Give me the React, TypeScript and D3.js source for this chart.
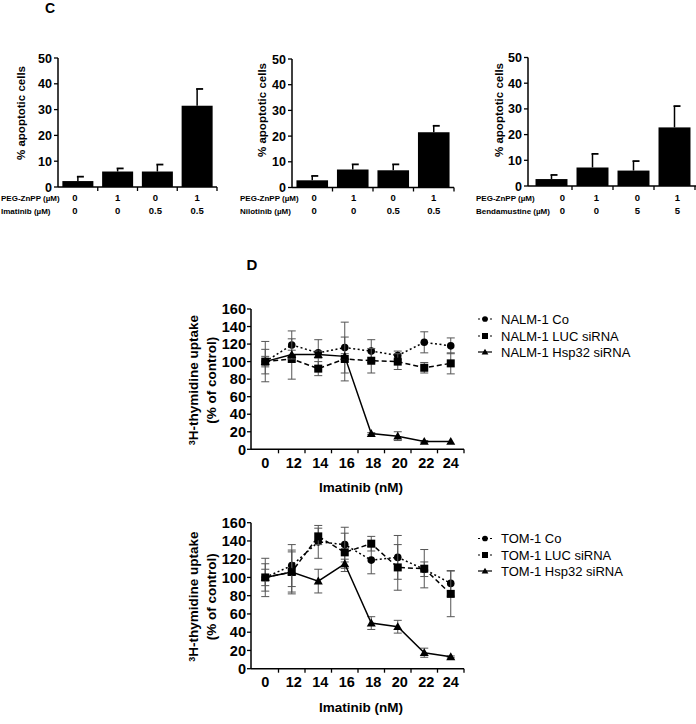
import React from 'react';
import * as d3 from 'd3';

// ---------- Panel C data ----------
const barGroups = ['a', 'b', 'c', 'd'];
const pegValues = ['0', '1', '0', '1'];
const imatinibValues = ['0', '0', '0.5', '0.5'];
const nilotinibValues = ['0', '0', '0.5', '0.5'];
const bendamustineValues = ['0', '0', '5', '5'];
const imatinibApoptosis = [2.3, 6.0, 6.0, 31.5];
const imatinibApoptosisErr = [1.7, 1.2, 2.7, 6.5];
const nilotinibApoptosis = [2.8, 7.0, 6.7, 21.5];
const nilotinibApoptosisErr = [1.7, 2.0, 2.3, 2.5];
const bendamustineApoptosis = [2.7, 7.2, 6.0, 22.8];
const bendamustineApoptosisErr = [1.6, 5.3, 3.7, 8.3];
const apoptosisTicks = [0, 10, 20, 30, 40, 50];

// ---------- Panel D data ----------
const doseLabels = ['0', '12', '14', '16', '18', '20', '22', '24'];
const uptakeTicks = [0, 20, 40, 60, 80, 100, 120, 140, 160];
const nalmCo = [100, 119, 110, 116, 112, 107, 122, 118];
const nalmCoErr = [14, 16, 15, 29, 13, 5, 12, 9];
const nalmLuc = [100, 103, 92, 103, 101, 100, 93, 98];
const nalmLucErr = [23, 23, 8, 25, 14, 9, 6, 12];
const nalmHsp = [100, 108, 108, 106, 18, 15, 9, 9];
const nalmHspErr = [6, 5, 4, 3, 1, 5, 1, 0];
const tomCo = [100, 113, 139, 136, 119, 122, 109, 93.5];
const tomCoErr = [21, 23, 18, 19, 15, 24, 8, 14];
const tomLuc = [100, 106, 145, 127.5, 137, 111, 109.6, 82];
const tomLucErr = [15, 24, 9, 21, 8, 25, 21, 25];
const tomHsp = [100, 106, 96, 115, 50, 46, 17.5, 13];
const tomHspErr = [9, 22, 13, 5, 7, 7, 5, 1];
const nalmNames = ['NALM-1 Co', 'NALM-1 LUC siRNA', 'NALM-1 Hsp32 siRNA'];
const tomNames = ['TOM-1 Co', 'TOM-1 LUC siRNA', 'TOM-1 Hsp32 siRNA'];

const FONT = '"Liberation Sans", Arial, Helvetica, sans-serif';

type BarProps = {
  axisX: number; axisEnd: number; bandStart: number; bandEnd: number;
  y0: number; yTop: number; values: number[]; errs: number[];
  drugName: string; drugValues: string[]; rowX: number; labelX: number; labelY: number;
  valueShift: number[];
};

function BarChart(p: BarProps) {
  const x = d3.scaleBand<string>().domain(barGroups).range([p.bandStart, p.bandEnd]).paddingInner(0.22).paddingOuter(0.11);
  const xb = d3.scaleBand<string>().domain(barGroups).range([p.bandStart, p.bandEnd]);
  const y = d3.scaleLinear().domain([0, 50]).range([p.y0, p.yTop]);
  const row1 = 198, row2 = 211;
  return (
    <g fontFamily={FONT}>
      {barGroups.map((g, i) => {
        const bx = x(g)!; const bw = x.bandwidth();
        const cx = bx + bw / 2;
        const top = y(p.values[i]);
        const et = y(p.values[i] + p.errs[i]);
        return (
          <g key={g}>
            <line x1={cx} x2={cx} y1={top} y2={et} stroke="#000" strokeWidth={1.5} />
            <line x1={cx - 1} x2={cx + 6} y1={et} y2={et} stroke="#000" strokeWidth={1.8} />
            <rect x={bx} y={top} width={bw} height={p.y0 - top} fill="#000" />
          </g>
        );
      })}
      <line x1={p.axisX} x2={p.axisX} y1={p.yTop} y2={p.y0} stroke="#000" strokeWidth={1.5} />
      <line x1={p.axisX} x2={p.axisEnd} y1={p.y0} y2={p.y0} stroke="#000" strokeWidth={1.5} />
      {barGroups.map((g) => (
        <line key={g} x1={xb(g)! + xb.bandwidth()} x2={xb(g)! + xb.bandwidth()} y1={p.y0} y2={p.y0 + 4} stroke="#000" strokeWidth={1.3} />
      ))}
      {apoptosisTicks.map((t) => (
        <g key={t}>
          <line x1={p.axisX - 4} x2={p.axisX} y1={y(t)} y2={y(t)} stroke="#000" strokeWidth={1.3} />
          <text x={p.axisX - 6} y={y(t)} dy="0.36em" textAnchor="end" fontSize={12.5} fontWeight="bold">{t}</text>
        </g>
      ))}
      <text transform={`translate(${p.labelX},${p.labelY}) rotate(-90)`} textAnchor="middle" dy="0.36em" fontSize={11.5} fontWeight="bold">% apoptotic cells</text>
      <text x={p.rowX} y={row1} dy="0.36em" fontSize={8} fontWeight="bold">PEG-ZnPP (µM)</text>
      <text x={p.rowX} y={row2} dy="0.36em" fontSize={8} fontWeight="bold">{p.drugName}</text>
      {barGroups.map((g, i) => (
        <g key={g}>
          <text x={x(g)! + x.bandwidth() / 2 + p.valueShift[i]} y={row1} dy="0.36em" textAnchor="middle" fontSize={9.5} fontWeight="bold">{pegValues[i]}</text>
          <text x={x(g)! + x.bandwidth() / 2 + p.valueShift[i]} y={row2} dy="0.36em" textAnchor="middle" fontSize={9.5} fontWeight="bold">{p.drugValues[i]}</text>
        </g>
      ))}
    </g>
  );
}

type Series = { name: string; values: number[]; errs: number[]; dash: string; marker: 'circle' | 'square' | 'triangle' };

function Marker({ kind, x, y, k = 1 }: { kind: string; x: number; y: number; k?: number }) {
  if (kind === 'circle') return <circle cx={x} cy={y} r={3.8 * k} fill="#000" />;
  if (kind === 'square') return <rect x={x - 4 * k} y={y - 4 * k} width={8 * k} height={8 * k} fill="#000" />;
  const s = 4.5 * k;
  return <path d={`M${x},${y - s}L${x + s},${y + s * 0.75}L${x - s},${y + s * 0.75}Z`} fill="#000" />;
}

type LineProps = { y0: number; yTop: number; series: Series[]; legendY: number[] };

function LineChart(p: LineProps) {
  const axisX = 251, axisEnd = 464;
  const x = d3.scaleBand<string>().domain(doseLabels).range([axisX + 1, axisEnd]);
  const y = d3.scaleLinear().domain([0, 160]).range([p.y0, p.yTop]);
  const cx = (i: number) => x(doseLabels[i])! + x.bandwidth() / 2;
  const midY = (p.y0 + p.yTop) / 2;
  return (
    <g fontFamily={FONT}>
      {p.series.map((s) => {
        const line = d3.line<number>().x((_, i) => cx(i)).y((v) => y(v));
        return (
          <g key={s.name}>
            {s.values.map((v, i) => s.errs[i] > 0.5 ? (
              <g key={i} stroke="#555" strokeWidth={1}>
                <line x1={cx(i)} x2={cx(i)} y1={y(v + s.errs[i])} y2={y(v - s.errs[i])} />
                <line x1={cx(i) - 4} x2={cx(i) + 4} y1={y(v + s.errs[i])} y2={y(v + s.errs[i])} />
                <line x1={cx(i) - 4} x2={cx(i) + 4} y1={y(v - s.errs[i])} y2={y(v - s.errs[i])} />
              </g>
            ) : null)}
            <path d={line(s.values)!} fill="none" stroke="#000" strokeWidth={1.5} strokeDasharray={s.dash} />
            {s.values.map((v, i) => <Marker key={i} kind={s.marker} x={cx(i)} y={y(v)} />)}
          </g>
        );
      })}
      <line x1={axisX} x2={axisX} y1={p.yTop} y2={p.y0} stroke="#000" strokeWidth={1.5} />
      <line x1={axisX} x2={axisEnd} y1={p.y0} y2={p.y0} stroke="#000" strokeWidth={1.5} />
      {doseLabels.map((d) => (
        <line key={d} x1={x(d)! + x.bandwidth()} x2={x(d)! + x.bandwidth()} y1={p.y0} y2={p.y0 + 4} stroke="#000" strokeWidth={1.3} />
      ))}
      {uptakeTicks.map((t) => (
        <g key={t}>
          <line x1={axisX - 4} x2={axisX} y1={y(t)} y2={y(t)} stroke="#000" strokeWidth={1.3} />
          <text x={axisX - 5} y={y(t)} dy="0.36em" textAnchor="end" fontSize={14.5} fontWeight="bold">{t}</text>
        </g>
      ))}
      {doseLabels.map((d, i) => (
        <text key={d} x={cx(i) + (i > 0 && i < 7 ? 2 : 0)} y={p.y0 + 13} dy="0.36em" textAnchor="middle" fontSize={14.5} fontWeight="bold">{d}</text>
      ))}
      <text x={361} y={p.y0 + 38} dy="0.36em" textAnchor="middle" fontSize={13.5} fontWeight="bold">Imatinib (nM)</text>
      <text transform={`translate(197,${midY + 1}) rotate(-90)`} textAnchor="middle" dy="0.36em" fontSize={13.5} fontWeight="bold">
        <tspan fontSize={9} dy="-0.2em">3</tspan><tspan dy="0.2em">H-thymidine uptake</tspan>
      </text>
      <text transform={`translate(211,${midY + 1}) rotate(-90)`} textAnchor="middle" dy="0.36em" fontSize={13.5} fontWeight="bold">(% of control)</text>
      {p.series.map((s, i) => (
        <g key={s.name}>
          <line x1={478} x2={492} y1={p.legendY[i]} y2={p.legendY[i]} stroke="#000" strokeWidth={1.2} strokeDasharray={s.dash === '' ? '' : '2,2'} />
          <Marker kind={s.marker} x={485} y={p.legendY[i]} k={0.75} />
          <text x={501} y={p.legendY[i]} dy="0.36em" fontSize={13}>{s.name}</text>
        </g>
      ))}
    </g>
  );
}

export default function App() {
  const dashes = ['2,2.5', '5,3', ''];
  const markers: ('circle' | 'square' | 'triangle')[] = ['circle', 'square', 'triangle'];
  const nalmSeries: Series[] = [
    { name: nalmNames[0], values: nalmCo, errs: nalmCoErr, dash: dashes[0], marker: markers[0] },
    { name: nalmNames[1], values: nalmLuc, errs: nalmLucErr, dash: dashes[1], marker: markers[1] },
    { name: nalmNames[2], values: nalmHsp, errs: nalmHspErr, dash: dashes[2], marker: markers[2] },
  ];
  const tomSeries: Series[] = [
    { name: tomNames[0], values: tomCo, errs: tomCoErr, dash: dashes[0], marker: markers[0] },
    { name: tomNames[1], values: tomLuc, errs: tomLucErr, dash: dashes[1], marker: markers[1] },
    { name: tomNames[2], values: tomHsp, errs: tomHspErr, dash: dashes[2], marker: markers[2] },
  ];
  return (
    <svg width={696} height={724} style={{ position: 'absolute', left: 0, top: 0, background: '#fff' }}>
      <rect x={0} y={0} width={696} height={724} fill="#fff" />
      <text x={50} y={13} textAnchor="middle" fontFamily={FONT} fontSize={14} fontWeight="bold">C</text>
      <BarChart axisX={58} axisEnd={217} bandStart={58} bandEnd={217} y0={187} yTop={58}
        values={imatinibApoptosis} errs={imatinibApoptosisErr} drugName="Imatinib (µM)" drugValues={imatinibValues}
        rowX={1} labelX={21} labelY={113} valueShift={[-3, 0, -2, 0]} />
      <BarChart axisX={292} axisEnd={454} bandStart={292} bandEnd={454} y0={187.5} yTop={59}
        values={nilotinibApoptosis} errs={nilotinibApoptosisErr} drugName="Nilotinib (µM)" drugValues={nilotinibValues}
        rowX={240} labelX={262} labelY={110} valueShift={[2, 1, 0, 0]} />
      <BarChart axisX={528} axisEnd={697} bandStart={531} bandEnd={695} y0={186} yTop={57.5}
        values={bendamustineApoptosis} errs={bendamustineApoptosisErr} drugName="Bendamustine (µM)" drugValues={bendamustineValues}
        rowX={476} labelX={499} labelY={110} valueShift={[11, 4, 4, 3]} />
      <text x={252} y={270} textAnchor="middle" fontFamily={FONT} fontSize={15} fontWeight="bold">D</text>
      <LineChart y0={449.3} yTop={309} series={nalmSeries} legendY={[319, 336, 352]} />
      <LineChart y0={668.7} yTop={522.7} series={tomSeries} legendY={[538.5, 555, 571]} />
    </svg>
  );
}
